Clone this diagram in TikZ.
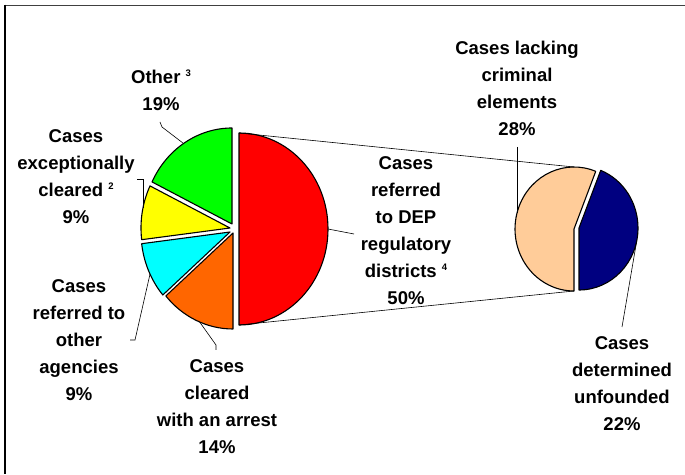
\documentclass[tikz,border=0pt]{standalone}
\usepackage{fontspec}
\setmainfont{Liberation Sans}
\definecolor{sgreen}{RGB}{0,255,0}
\definecolor{syellow}{RGB}{255,255,0}
\definecolor{scyan}{RGB}{0,255,255}
\definecolor{sorange}{RGB}{255,102,0}
\definecolor{sred}{RGB}{255,0,0}
\definecolor{speach}{RGB}{255,204,153}
\definecolor{snavy}{RGB}{0,0,128}
\newcommand{\lblfont}{\bfseries\fontsize{18.5}{27}\selectfont}
\newcommand{\sux}[1]{\raisebox{0.75ex}{\fontsize{9.5}{10}\selectfont #1}}
\begin{document}
\begin{tikzpicture}[x=1pt,y=1pt,
  slice/.style={draw=black, line width=1.1pt, line join=round},
  bigr/.style={x radius=89pt, y radius=96pt},
  smallr/.style={x radius=59pt, y radius=62pt},
  lbl/.style={align=center, inner sep=0pt, font=\lblfont},
  leader/.style={draw=black, line width=0.6pt},
  link/.style={draw=black, line width=0.6pt}]
\useasboundingbox (0,0) rectangle (685,474);
% frame (top and left only)
\draw[line width=1.6pt, black!75] (4,468.5) -- (685,468.5);
\draw[line width=2pt, black] (5,469.3) -- (5,0);
% main pie
\coordinate (cR) at (239,245);
\coordinate (cG) at (232,250);
\coordinate (cY) at (230,246);
\coordinate (cC) at (230,242);
\coordinate (cO) at (233,241);
\filldraw[slice, fill=sred] (cR) -- ++(-90:89pt and 96pt) arc[bigr, start angle=-90, end angle=90] -- cycle;
\filldraw[slice, fill=sgreen] (cG) -- ++(90:89pt and 96pt) arc[bigr, start angle=90, end angle=154] -- cycle;
\filldraw[slice, fill=syellow] (cY) -- ++(154:89pt and 96pt) arc[bigr, start angle=154, end angle=187] -- cycle;
\filldraw[slice, fill=scyan] (cC) -- ++(187:89pt and 96pt) arc[bigr, start angle=187, end angle=221] -- cycle;
\filldraw[slice, fill=sorange] (cO) -- ++(221:89pt and 96pt) arc[bigr, start angle=221, end angle=270] -- cycle;
% second pie
\coordinate (cP) at (574,245);
\coordinate (cB) at (579,246);
\filldraw[slice, fill=speach] (cP) -- ++(68.4:59pt and 62pt) arc[smallr, start angle=68.4, end angle=270] -- cycle;
\filldraw[slice, fill=snavy] (cB) -- ++(-90:59pt and 62pt) arc[smallr, start angle=-90, end angle=68.4] -- cycle;
% points on the pies
\path (cR) ++(90:89pt and 96pt) coordinate (rTop);
\path (cR) ++(-90:89pt and 96pt) coordinate (rBot);
\path (cR) ++(0:89pt and 96pt) coordinate (rMid);
\path (cP) ++(90:59pt and 62pt) coordinate (pTop);
\path (cP) ++(-90:59pt and 62pt) coordinate (pBot);
\path (cG) ++(123:89pt and 96pt) coordinate (gPt);
\path (cY) ++(168:89pt and 96pt) coordinate (yPt);
\path (cC) ++(206:89pt and 96pt) coordinate (cPt);
\path (cO) ++(248:89pt and 96pt) coordinate (oPt);
\path (cP) ++(165:59pt and 62pt) coordinate (pPt);
\path (cB) ++(-12:59pt and 62pt) coordinate (bPt);
% connectors between the pies
\draw[link] (rTop) -- (pTop);
\draw[link] (rBot) -- (pBot);
% labels
\node[lbl] (lOther) at (161,384) {Other \sux{3}\\19\%};
\node[lbl] (lExc) at (76,297) {Cases\\exceptionally\\cleared \sux{2}\\9\%};
\node[lbl] (lAg) at (79,134) {Cases\\referred to\\other\\agencies\\9\%};
\node[lbl] (lArr) at (217,67) {Cases\\cleared\\with an arrest\\14\%};
\node[lbl] (lDep) at (406,243) {Cases\\referred\\to DEP\\regulatory\\districts \sux{4}\\50\%};
\node[lbl] (lLack) at (517,386) {Cases lacking\\criminal\\elements\\28\%};
\node[lbl] (lUnf) at (622,90) {Cases\\determined\\unfounded\\22\%};
% leader lines
\coordinate (kOther) at (160,352);
\coordinate (kExc) at (137,295);
\coordinate (kAg) at (130,134);
\coordinate (kArr) at (216,124);
\coordinate (kDep) at (354,240);
\coordinate (kLack) at (517,327);
\coordinate (kUnf) at (622,147);
\draw[leader] (kOther) -- ++(2,-5) -- (gPt);
\draw[leader] (kExc) -- (yPt |- kExc) -- (yPt);
\draw[leader] (kAg) -- ++(5,0) -- (cPt);
\draw[leader] (kArr) -- ++(0,5) -- (oPt);
\draw[leader] (rMid) -- (kDep);
\draw[leader] (kLack) -- (kLack |- pPt);
\draw[leader] (kUnf) -- (bPt);
\end{tikzpicture}
\end{document}
